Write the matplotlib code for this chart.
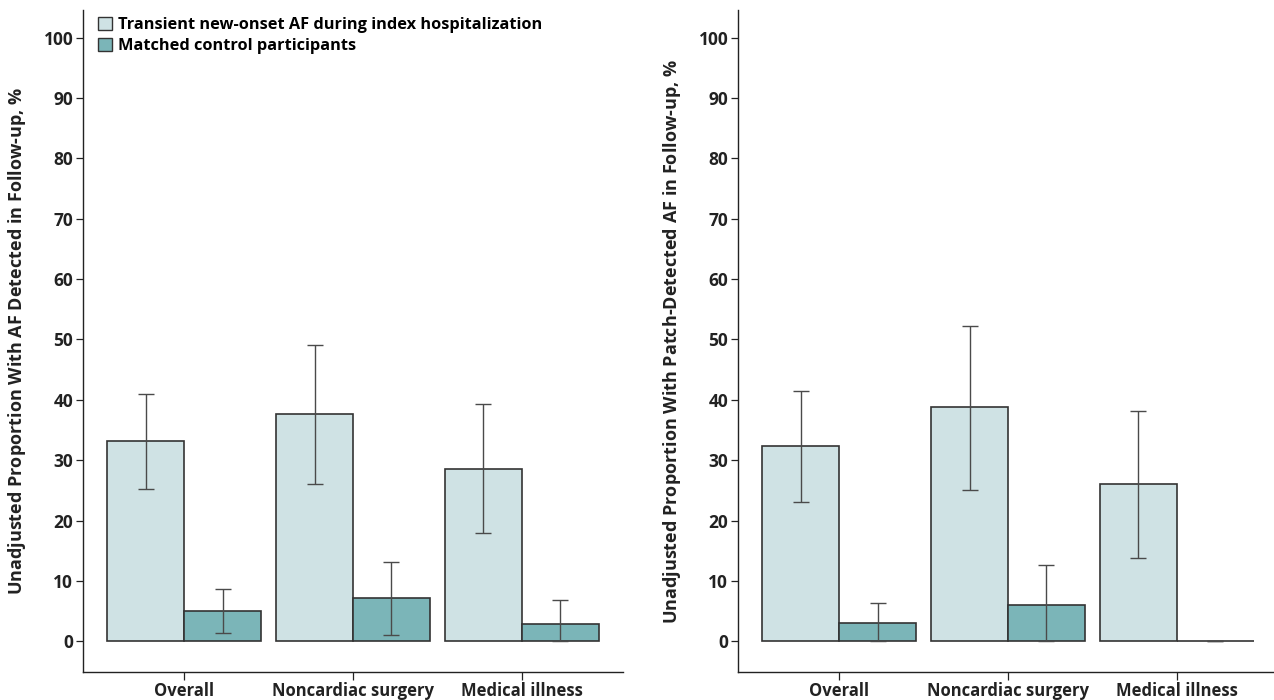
import numpy as np
import matplotlib
matplotlib.use("Agg")
import matplotlib.pyplot as plt
from matplotlib.patches import Patch

plt.rcParams["font.family"] = ["Open Sans", "DejaVu Sans"]
plt.rcParams["font.weight"] = "bold"
plt.rcParams["mathtext.fontset"] = "custom"
plt.rcParams["mathtext.it"] = "Open Sans:italic:bold"
plt.rcParams["mathtext.rm"] = "Open Sans:bold"

categorias = ["Overall", "Noncardiac surgery", "Medical illness"]
series = ["Transient new-onset AF during index hospitalization",
          "Matched control participants"]

# painel esquerdo: AF detectada no seguimento
esq_af = [33.1, 37.6, 28.6]
esq_af_lo = [25.2, 26.1, 18.0]
esq_af_hi = [41.0, 49.1, 39.3]
esq_ctrl = [5.0, 7.1, 2.9]
esq_ctrl_lo = [1.4, 1.1, 0.0]
esq_ctrl_hi = [8.7, 13.2, 6.8]

# painel direito: AF detectada por patch
dir_af = [32.3, 38.8, 26.0]
dir_af_lo = [23.1, 25.0, 13.8]
dir_af_hi = [41.5, 52.3, 38.2]
dir_ctrl = [3.0, 6.0, 0.0]
dir_ctrl_lo = [0.0, 0.0, 0.0]
dir_ctrl_hi = [6.3, 12.7, 0.0]

yticks = [0, 10, 20, 30, 40, 50, 60, 70, 80, 90, 100]

cor_clara = "#cfe2e4"
cor_escura = "#7bb5b8"
cor_borda = "#333333"
cor_erro = "#4a4a4a"

fig = plt.figure(figsize=(12.74, 7.0), dpi=100)
ax1 = fig.add_axes([83 / 1274, 1 - 672 / 700, 540 / 1274, 662 / 700])
ax2 = fig.add_axes([738 / 1274, 1 - 672 / 700, 540 / 1274, 662 / 700])


def painel(ax, af, af_lo, af_hi, ctrl, ctrl_lo, ctrl_hi, ylabel):
    x = np.arange(len(categorias))
    w = 0.455
    ax.bar(x, af, width=-w, align="edge", color=cor_clara,
           edgecolor=cor_borda, linewidth=1.2, zorder=2)
    ax.bar(x, ctrl, width=w, align="edge", color=cor_escura,
           edgecolor=cor_borda, linewidth=1.2, zorder=2)

    af = np.array(af)
    ctrl = np.array(ctrl)
    err_af = [af - np.array(af_lo), np.array(af_hi) - af]
    err_ctrl = [ctrl - np.array(ctrl_lo), np.array(ctrl_hi) - ctrl]
    ax.errorbar(x - w / 2, af, yerr=err_af, fmt="none", ecolor=cor_erro,
                elinewidth=1.0, capsize=6, capthick=1.0, zorder=3)
    ax.errorbar(x + w / 2, ctrl, yerr=err_ctrl, fmt="none", ecolor=cor_erro,
                elinewidth=1.0, capsize=6, capthick=1.0, zorder=3)

    ax.set_xlim(-0.6, 2.6)
    ax.set_ylim(-5.1, 104.6)
    ax.set_yticks(yticks)
    ax.set_xticks(x)
    ax.set_xticklabels(categorias)
    ax.spines["top"].set_visible(False)
    ax.spines["right"].set_visible(False)
    for s in ("left", "bottom"):
        ax.spines[s].set_linewidth(1.0)
        ax.spines[s].set_color("#222222")
    ax.tick_params(axis="y", length=5, width=0.9, pad=2, labelsize=12.5,
                   colors="#222222")
    ax.tick_params(axis="x", length=6, width=0.9, pad=1.5, labelsize=12,
                   colors="#222222")
    ax.set_ylabel(ylabel, fontsize=13, fontweight="bold", color="#222222",
                  labelpad=11)


painel(ax1, esq_af, esq_af_lo, esq_af_hi, esq_ctrl, esq_ctrl_lo, esq_ctrl_hi,
       r"Unadjusted Proportion With AF Detected in Follow-up, $\mathit{\%}$")
painel(ax2, dir_af, dir_af_lo, dir_af_hi, dir_ctrl, dir_ctrl_lo, dir_ctrl_hi,
       r"Unadjusted Proportion With Patch-Detected AF in Follow-up, $\mathit{\%}$")

handles = [Patch(facecolor=cor_clara, edgecolor=cor_borda, linewidth=1.0),
           Patch(facecolor=cor_escura, edgecolor=cor_borda, linewidth=1.0)]
ax1.legend(handles, series, loc="upper left", bbox_to_anchor=(0.01, 1.005),
           frameon=False, handlelength=0.85, handleheight=0.85,
           handletextpad=0.35, labelspacing=0.3, borderaxespad=0.2,
           prop={"weight": "bold", "size": 11.8})

fig.savefig("out.png", dpi=100)
